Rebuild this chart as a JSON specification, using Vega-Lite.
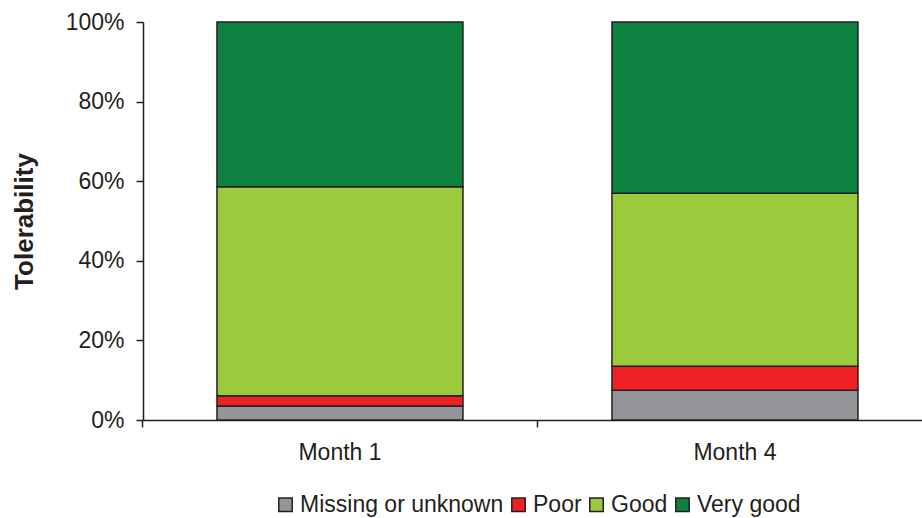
{
  "$schema": "https://vega.github.io/schema/vega-lite/v6.json",
  "width": 779,
  "height": 398,
  "autosize": {"type": "none"},
  "padding": {"left": 143, "top": 22, "right": 0, "bottom": 98},
  "background": "white",
  "config": {
    "view": {"stroke": null},
    "font": "Liberation Sans",
    "axis": {"labelColor": "#231f20", "titleColor": "#231f20", "domainColor": "#231f20", "tickColor": "#231f20", "labelFont": "Liberation Sans", "titleFont": "Liberation Sans"}
  },
  "data": {
    "values": [
      {"month": "Month 1", "category": "Missing or unknown", "k": 1, "value": 3.5},
      {"month": "Month 1", "category": "Poor", "k": 2, "value": 2.6},
      {"month": "Month 1", "category": "Good", "k": 3, "value": 52.5},
      {"month": "Month 1", "category": "Very good", "k": 4, "value": 41.4},
      {"month": "Month 4", "category": "Missing or unknown", "k": 1, "value": 7.5},
      {"month": "Month 4", "category": "Poor", "k": 2, "value": 6.0},
      {"month": "Month 4", "category": "Good", "k": 3, "value": 43.5},
      {"month": "Month 4", "category": "Very good", "k": 4, "value": 43.0}
    ]
  },
  "resolve": {"axis": {"x": "independent"}},
  "layer": [
    {
      "mark": {"type": "bar", "stroke": "#231f20", "strokeWidth": 1.5},
      "encoding": {
        "x": {
          "field": "month", "type": "nominal",
          "scale": {"paddingInner": 0.3772, "paddingOuter": 0.1747, "align": 0.536},
          "axis": {"title": null, "orient": "bottom", "labelAngle": 0, "labelFontSize": 23, "labelPadding": 21, "ticks": false, "domainWidth": 1.5}
        },
        "y": {
          "field": "value", "type": "quantitative", "stack": "normalize",
          "scale": {"domain": [0, 1]},
          "axis": {"title": "Tolerability", "titleFontSize": 26, "titleFontWeight": "bold", "titlePadding": 28, "format": ".0%", "values": [0, 0.2, 0.4, 0.6, 0.8, 1], "labelFontSize": 23, "labelPadding": 12, "tickSize": 7, "tickWidth": 1.5, "domainWidth": 1.5, "grid": false}
        },
        "color": {
          "field": "category", "type": "nominal",
          "scale": {"domain": ["Missing or unknown", "Poor", "Good", "Very good"], "range": ["#939598", "#ed2024", "#9bcb3c", "#0e8140"]},
          "legend": {"title": null, "orient": "none", "legendX": 131, "legendY": 471, "direction": "horizontal", "columns": 4, "symbolType": "square", "symbolSize": 180, "symbolStrokeColor": "#231f20", "symbolStrokeWidth": 1.5, "labelFontSize": 23, "labelColor": "#231f20", "labelFont": "Liberation Sans", "columnPadding": 3, "labelOffset": 3, "labelLimit": 400}
        },
        "order": {"field": "k", "type": "quantitative"}
      }
    },
    {
      "mark": {"type": "bar", "opacity": 0},
      "encoding": {
        "x": {
          "field": "month", "type": "nominal",
          "axis": {"title": null, "orient": "bottom", "labels": false, "domain": false, "bandPosition": -0.303, "tickSize": 7, "tickWidth": 1.5}
        },
        "y": {"field": "value", "type": "quantitative", "stack": "normalize"}
      }
    }
  ]
}
